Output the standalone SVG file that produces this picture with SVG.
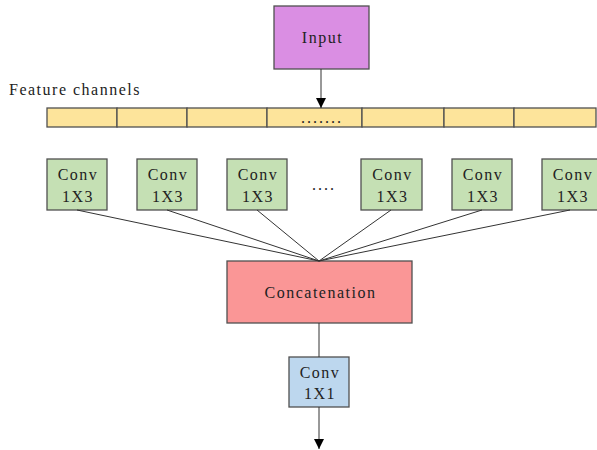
<svg xmlns="http://www.w3.org/2000/svg" width="597" height="450" viewBox="0 0 597 450">
  <style>
    text { font-family: "Liberation Serif", "Times New Roman", serif; font-size: 16px; letter-spacing: 1.5px; fill: #222; }
    .c { text-anchor: middle; }
    .dots { letter-spacing: 2px; }
    .box { stroke: #505050; stroke-width: 1.3; }
    .conv3 { fill: #C5E0B4; }
    .wire { stroke: #333; stroke-width: 1; fill: none; }
    .seg { fill: #FDE49B; stroke: #505050; stroke-width: 1.3; }
  </style>
  <defs>
    <marker id="arrow" viewBox="0 0 10 10" refX="10" refY="5" markerWidth="10" markerHeight="10" markerUnits="userSpaceOnUse" orient="auto">
      <path d="M0,0 L10,5 L0,10 Z" fill="#000"/>
    </marker>
  </defs>

  <rect width="597" height="450" fill="#fff"/>

  <g id="input">
    <rect class="box" x="274" y="6" width="95" height="63" fill="#DA8EE3"/>
    <text class="c" x="322.5" y="43">Input</text>
  </g>

  <g id="feature-channels">
    <text x="9" y="95" font-size="15" letter-spacing="1.3">Feature channels</text>
    <rect class="seg" x="47" y="108" width="70" height="19"/>
    <rect class="seg" x="117" y="108" width="70" height="19"/>
    <rect class="seg" x="187" y="108" width="80" height="19"/>
    <rect class="seg" x="267" y="108" width="95" height="19"/>
    <rect class="seg" x="362" y="108" width="82" height="19"/>
    <rect class="seg" x="444" y="108" width="70" height="19"/>
    <rect class="seg" x="514" y="108" width="82" height="19"/>
    <text class="dots" x="301" y="123">.......</text>
  </g>

  <g id="conv-1">
    <rect class="box conv3" x="47" y="159" width="60" height="51"/>
    <text class="c" x="78" y="180">Conv</text>
    <text class="c" x="78" y="202">1X3</text>
  </g>
  <g id="conv-2">
    <rect class="box conv3" x="137" y="159" width="60" height="51"/>
    <text class="c" x="168" y="180">Conv</text>
    <text class="c" x="168" y="202">1X3</text>
  </g>
  <g id="conv-3">
    <rect class="box conv3" x="227" y="159" width="60" height="51"/>
    <text class="c" x="258" y="180">Conv</text>
    <text class="c" x="258" y="202">1X3</text>
  </g>
  <text class="dots" x="312" y="190">....</text>
  <g id="conv-4">
    <rect class="box conv3" x="361" y="159" width="61" height="51"/>
    <text class="c" x="392.5" y="180">Conv</text>
    <text class="c" x="392.5" y="202">1X3</text>
  </g>
  <g id="conv-5">
    <rect class="box conv3" x="452" y="159" width="60" height="51"/>
    <text class="c" x="483" y="180">Conv</text>
    <text class="c" x="483" y="202">1X3</text>
  </g>
  <g id="conv-6">
    <rect class="box conv3" x="542" y="159" width="60" height="51"/>
    <text class="c" x="573" y="180">Conv</text>
    <text class="c" x="573" y="202">1X3</text>
  </g>

  <g id="concatenation">
    <rect class="box" x="227" y="261" width="185" height="62" fill="#FA9696"/>
    <text class="c" x="320.5" y="298">Concatenation</text>
  </g>

  <g id="conv-1x1">
    <rect class="box" x="289" y="357" width="60" height="50" fill="#BDD7EE"/>
    <text class="c" x="320" y="378">Conv</text>
    <text class="c" x="320" y="399">1X1</text>
  </g>

  <g id="connectors">
    <line class="wire" x1="321" y1="69" x2="321" y2="108" marker-end="url(#arrow)"/>
    <line class="wire" x1="77" y1="210" x2="319" y2="261"/>
    <line class="wire" x1="167" y1="210" x2="319" y2="261"/>
    <line class="wire" x1="257" y1="210" x2="319" y2="261"/>
    <line class="wire" x1="391" y1="210" x2="319" y2="261"/>
    <line class="wire" x1="482" y1="210" x2="319" y2="261"/>
    <line class="wire" x1="570" y1="210" x2="319" y2="261"/>
    <line class="wire" x1="319" y1="323" x2="319" y2="357"/>
    <line class="wire" x1="319" y1="407" x2="319" y2="449" marker-end="url(#arrow)"/>
  </g>
</svg>
